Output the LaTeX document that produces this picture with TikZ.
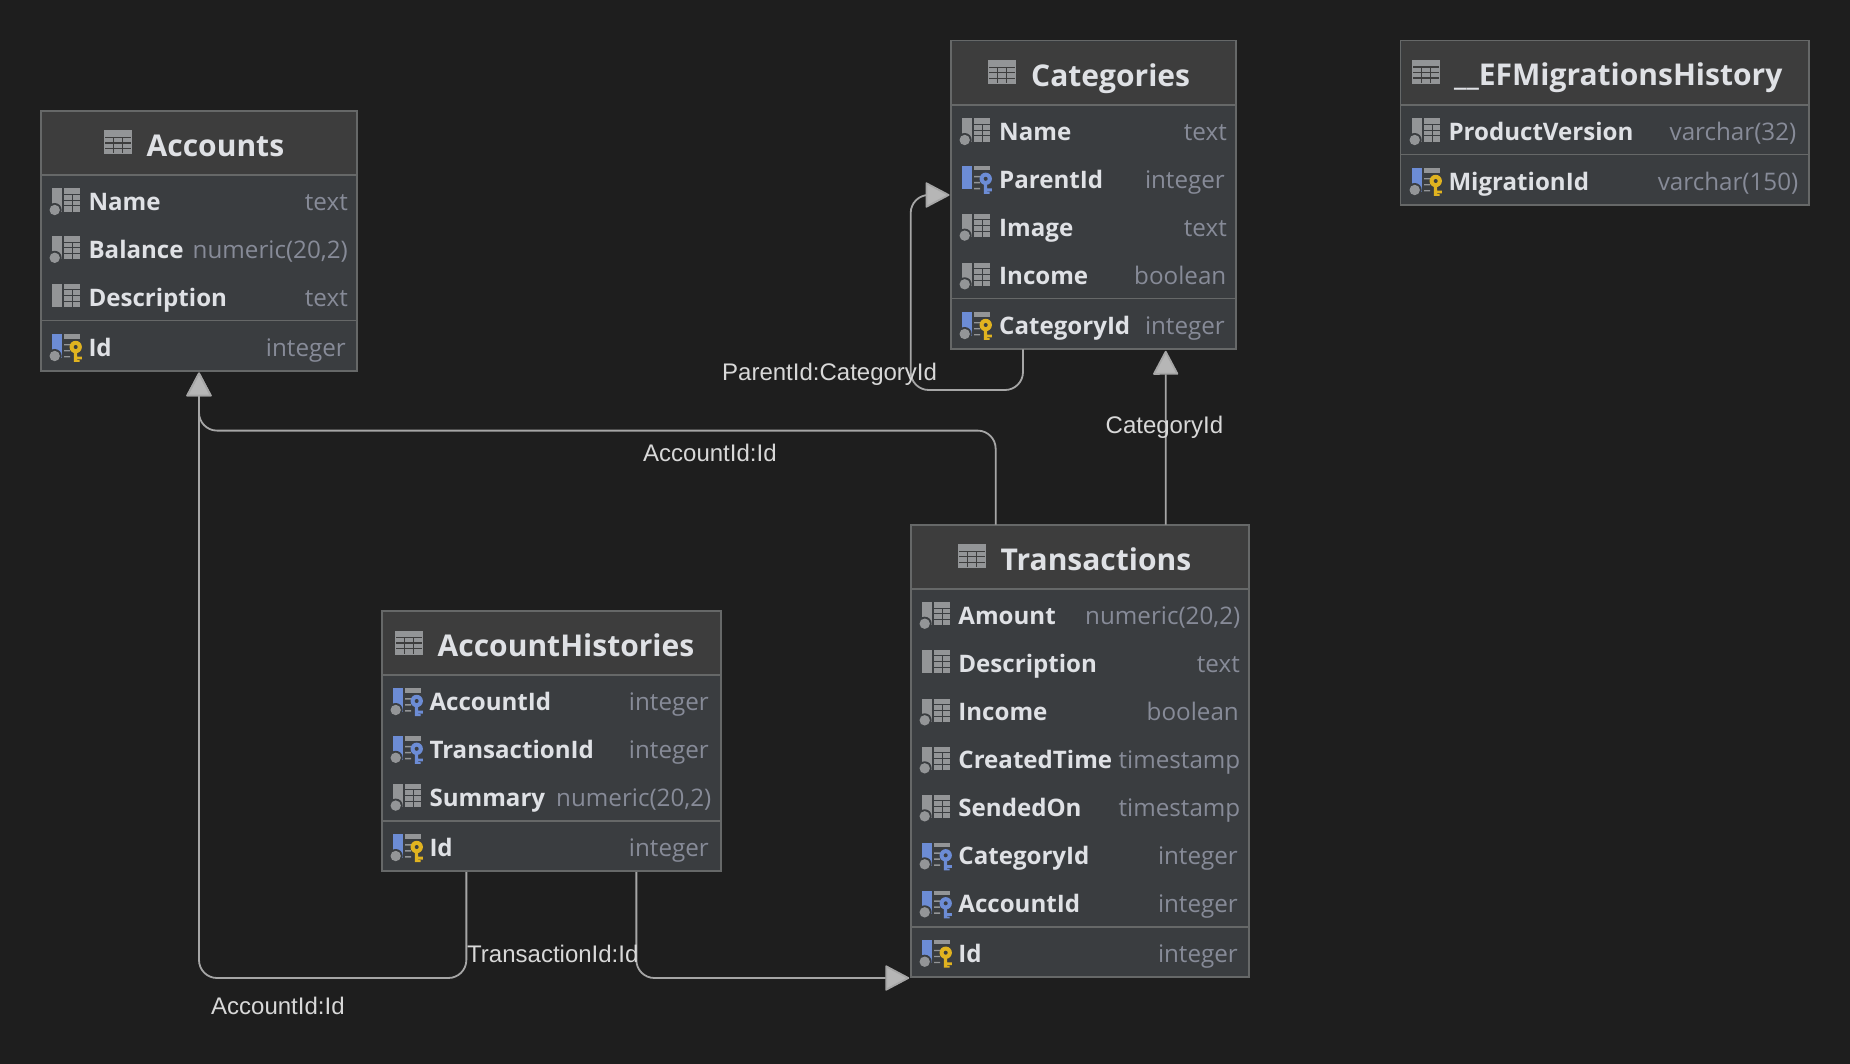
\documentclass[tikz,border=0pt]{standalone}
\usepackage{fontspec}
\usetikzlibrary{arrows.meta,calc}
\setmainfont{Liberation Sans}
\newfontfamily\colfont{Open Sans}
\definecolor{bgc}{HTML}{1E1E1E}
\definecolor{headc}{HTML}{3D3D3D}
\definecolor{bodyc}{HTML}{3A3D40}
\definecolor{edgec}{HTML}{666868}
\definecolor{namec}{HTML}{DFE1E5}
\definecolor{typec}{HTML}{878B98}
\definecolor{labc}{HTML}{D8D8D8}
\definecolor{linec}{HTML}{A6A6A6}
\definecolor{tipc}{HTML}{B6B6B6}
\definecolor{greyi}{HTML}{939597}
\definecolor{bluei}{HTML}{6C8CD5}
\definecolor{yeli}{HTML}{E0B320}
\tikzset{
  x=1pt,y=-1pt,
  dbbox/.style={draw=edgec,line width=1.6pt,fill=bodyc,rectangle,inner sep=0pt,outer sep=0pt,anchor=north west},
  seprule/.style={draw=edgec,line width=1.6pt},
  titletext/.style={inner sep=0pt,anchor=base west,text=namec,font=\colfont\fontsize{30}{33}\selectfont\bfseries},
  nametext/.style={inner sep=0pt,anchor=base west,text=namec,font=\colfont\fontsize{24.1}{28}\selectfont\bfseries},
  typetext/.style={inner sep=0pt,anchor=base east,text=typec,font=\colfont\fontsize{24.2}{28}\selectfont},
  edgelabel/.style={inner sep=0pt,anchor=base west,text=labc,font=\fontsize{24}{27}\selectfont},
  fk/.style={draw=linec,line width=1.8pt,rounded corners=18pt,-{Triangle[width=26pt,length=25pt,fill=tipc,round=false]}},
}
\newcount\itemno
% title: box-left x, right x, top y, separator y, icon x, text x, title
\newcommand{\dbhead}[7]{%
  \fill[headc] (#1+1,#3+1) rectangle (#2-1,#4);
  \draw[seprule] (#1,#4) -- (#2,#4);
  \begin{scope}[shift={(#5,#3+19.5)}]
    \fill[greyi] (0,0) rectangle (28,24);
    \draw[headc,line width=1.1pt] (1,7)--(27,7) (1,12.5)--(27,12.5) (1,18)--(27,18)
      (9.5,7)--(9.5,23) (18.5,7)--(18.5,23);
  \end{scope}
  \global\advance\itemno by 1
  \node[titletext] (t\the\itemno) at (#6,#3+45.5) {#7};
}
% row: icon x, centre y, kind (n/f/p), dot (0/1), name x, name, right x, type
\newcommand{\dbrow}[8]{%
  \begin{scope}[shift={(#1,#2)}]
    \if#3n\relax
      \fill[greyi] (0,-13.3) rectangle (10,10);
      \fill[greyi] (12,-13.3) rectangle (28,10);
      \draw[bodyc,line width=1pt] (12,-7.4)--(28,-7.4) (12,-1.6)--(28,-1.6) (12,4.2)--(28,4.2)
        (20,-7.4)--(20,10);
    \else
      \fill[bluei] (0,-13.3) rectangle (10,10);
      \fill[greyi] (12,-13.3) rectangle (28,-9);
      \fill[greyi] (12,-3.6) rectangle (18,-2.2) (12,2.4) rectangle (18,3.8) (12,8.4) rectangle (18,9.8);
      \if#3f\relax\def\keyc{bluei}\else\def\keyc{yeli}\fi
      \fill[bodyc] (19,-9) rectangle (31,16);
      \fill[\keyc] (21.8,0) rectangle (25.2,14.3) (25,9) rectangle (29.8,11.8) (25,12.5) rectangle (27.5,14.3);
      \fill[\keyc] (23.7,-0.7) circle (6.2);
      \fill[bodyc] (23.7,-0.7) circle (2);
    \fi
    \ifnum#4=1
      \fill[bodyc] (2.7,8.3) circle (7);
      \fill[greyi] (2.7,8.3) circle (5.2);
    \fi
  \end{scope}
  \global\advance\itemno by 1
  \node[nametext] (n\the\itemno) at (#5,#2+8.8) {#6};
  \node[typetext] (y\the\itemno) at (#7,#2+8.8) {#8};
}
\begin{document}
\begin{tikzpicture}
\useasboundingbox (0,0) rectangle (1850,1064);
\fill[bgc] (0,0) rectangle (1850,1064);

% ---------- Accounts
\node[dbbox,minimum width=316pt,minimum height=260pt] (Accounts) at (41,111) {};
\dbhead{41}{357}{111}{175}{104}{146.5}{Accounts}
\dbrow{52}{201.7}{n}{1}{88.3}{Name}{348}{text}
\dbrow{52}{249.5}{n}{1}{88.3}{Balance}{348}{numeric(20,2)}
\dbrow{52}{297.3}{n}{0}{88.3}{Description}{348}{text}
\draw[seprule] (41,320.7) -- (357,320.7);
\dbrow{52}{347.7}{p}{1}{88.3}{Id}{346}{integer}

% ---------- Categories
\node[dbbox,minimum width=285pt,minimum height=308.6pt] (Categories) at (951,40.7) {};
\dbhead{951}{1236}{40.7}{105}{988}{1031}{Categories}
\dbrow{962}{131.7}{n}{1}{999}{Name}{1227}{text}
\dbrow{962}{179.5}{f}{0}{999}{ParentId}{1225}{integer}
\dbrow{962}{227.3}{n}{1}{999}{Image}{1227}{text}
\dbrow{962}{276}{n}{1}{999}{Income}{1226.5}{boolean}
\draw[seprule] (951,298.7) -- (1236,298.7);
\dbrow{962}{325.7}{p}{1}{999}{CategoryId}{1225}{integer}

% ---------- __EFMigrationsHistory
\node[dbbox,minimum width=408.5pt,minimum height=164.6pt] (Migrations) at (1400.5,40.5) {};
\dbhead{1400.5}{1809}{40.5}{105}{1412}{1454}{\_\_EFMigrationsHistory}
\dbrow{1412}{131.7}{n}{1}{1448.3}{ProductVersion}{1796.5}{varchar(32)}
\draw[seprule] (1400.5,154.4) -- (1809,154.4);
\dbrow{1412}{181.7}{p}{1}{1448.3}{MigrationId}{1798.5}{varchar(150)}

% ---------- AccountHistories
\node[dbbox,minimum width=338.7pt,minimum height=260pt] (AccountHistories) at (382,611) {};
\dbhead{382}{720.7}{611}{675}{395}{437.5}{AccountHistories}
\dbrow{393}{701.7}{f}{1}{429.3}{AccountId}{709}{integer}
\dbrow{393}{749.5}{f}{1}{429.3}{TransactionId}{709}{integer}
\dbrow{393}{797.3}{n}{1}{429.3}{Summary}{711.5}{numeric(20,2)}
\draw[seprule] (382,820.7) -- (720.7,820.7);
\dbrow{393}{847.7}{p}{1}{429.3}{Id}{709}{integer}

% ---------- Transactions
\node[dbbox,minimum width=338.3pt,minimum height=452pt] (Transactions) at (910.7,524.7) {};
\dbhead{910.7}{1249}{524.7}{589}{958}{1000.5}{Transactions}
\dbrow{922}{615.4}{n}{1}{958.2}{Amount}{1240.5}{numeric(20,2)}
\dbrow{922}{663.2}{n}{0}{958.2}{Description}{1240}{text}
\dbrow{922}{712}{n}{1}{958.2}{Income}{1239}{boolean}
\dbrow{922}{760}{n}{1}{958.2}{CreatedTime}{1240.5}{timestamp}
\dbrow{922}{808}{n}{1}{958.2}{SendedOn}{1240.5}{timestamp}
\dbrow{922}{856}{f}{1}{958.2}{CategoryId}{1238}{integer}
\dbrow{922}{904}{f}{1}{958.2}{AccountId}{1238}{integer}
\draw[seprule] (910.7,927) -- (1249,927);
\dbrow{922}{953.4}{p}{1}{958.2}{Id}{1238}{integer}

% ---------- connectors
\coordinate (busTop) at (0,430.6);
\coordinate (loopLow) at (0,390);
\coordinate (busLow) at (0,978);
\coordinate (loopLeft) at (910.7,0);

\draw[fk] ([xshift=-84.2pt]Transactions.north) -- ([xshift=-84.2pt]Transactions.north |- busTop)
  -- (Accounts.south |- busTop) -- ([yshift=-1.5pt]Accounts.south);
\draw[fk] ([xshift=85.9pt]Transactions.north) -- ([xshift=72.2pt,yshift=-1.5pt]Categories.south);
\draw[fk] ([xshift=-70.5pt]Categories.south) -- ([xshift=-70.5pt]Categories.south |- loopLow)
  -- (loopLeft |- loopLow) -- (loopLeft |- Categories.west) -- ([xshift=-1.5pt]Categories.west);
\draw[fk] ([xshift=-85pt,yshift=-1pt]AccountHistories.south) -- ([xshift=-85pt]AccountHistories.south |- busLow)
  -- (Accounts.south |- busLow) -- ([yshift=-1.5pt]Accounts.south);
\draw[fk] ([xshift=85pt,yshift=-1pt]AccountHistories.south) -- ([xshift=85pt]AccountHistories.south |- busLow)
  -- ([xshift=-1.5pt]Transactions.west |- busLow);

\node[edgelabel] (lab1) at (722,380.5) {ParentId:CategoryId};
\node[edgelabel] (lab2) at (643,461) {AccountId:Id};
\node[edgelabel] (lab3) at (1105.5,433.5) {CategoryId};
\node[edgelabel] (lab4) at (467,962.5) {TransactionId:Id};
\node[edgelabel] (lab5) at (211,1014) {AccountId:Id};
\end{tikzpicture}
\end{document}
